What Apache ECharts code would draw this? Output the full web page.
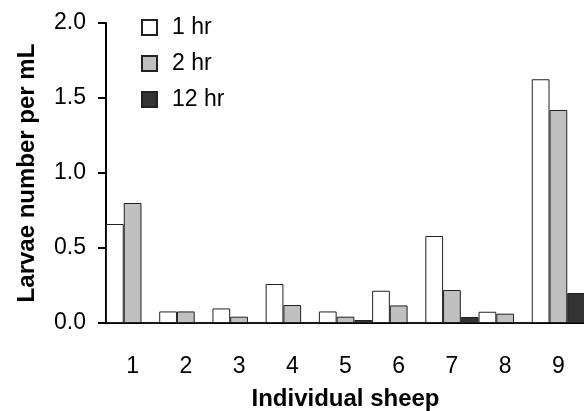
<!DOCTYPE html>
<html>
<head>
<meta charset="utf-8">
<script src="https://cdn.jsdelivr.net/npm/echarts@6/dist/echarts.min.js"></script>
<style>
  html, body { margin: 0; padding: 0; background: #fff; }
  #chart { width: 584px; height: 411px; }
</style>
</head>
<body>
<div id="chart"></div>
<script>
var sheep = ['1', '2', '3', '4', '5', '6', '7', '8', '9'];
var hr1 = [0.66, 0.077, 0.097, 0.26, 0.077, 0.215, 0.58, 0.075, 1.625];
var hr2 = [0.80, 0.077, 0.042, 0.12, 0.042, 0.117, 0.22, 0.062, 1.42];
var hr12 = [0, 0, 0, 0, 0.02, 0, 0.04, 0, 0.20];
var seriesNames = ['1 hr', '2 hr', '12 hr'];
var yTicks = [0, 0.5, 1.0, 1.5, 2.0];

var fontFam = 'Liberation Sans, Arial, sans-serif';

var myChart = echarts.init(document.getElementById('chart'));

function barSeries(name, data, fill) {
    return {
        name: name,
        type: 'bar',
        data: data,
        barGap: '0%',
        barCategoryGap: '0%',
        itemStyle: {
            color: fill,
            borderColor: '#222',
            borderWidth: 1
        }
    };
}

var option = {
    animation: false,
    grid: {
        left: 106,
        right: -1,
        top: 23,
        bottom: 88,
        outerBoundsMode: 'none'
    },
    legend: {
        orient: 'vertical',
        left: 136,
        top: 11,
        itemWidth: 15,
        itemHeight: 15,
        itemGap: 13,
        icon: 'rect',
        data: seriesNames,
        textStyle: {
            fontFamily: fontFam,
            fontSize: 23,
            color: '#000',
            padding: [0, 0, 0, 10]
        }
    },
    xAxis: {
        type: 'category',
        data: sheep,
        name: 'Individual sheep',
        nameLocation: 'middle',
        nameGap: 64,
        nameTextStyle: {
            fontFamily: fontFam,
            fontSize: 24,
            fontWeight: 'bold',
            color: '#000'
        },
        axisLine: { lineStyle: { color: '#000', width: 2 } },
        axisTick: { length: 9, lineStyle: { color: '#000', width: 2 } },
        axisLabel: {
            margin: 32,
            fontFamily: fontFam,
            fontSize: 23,
            color: '#000'
        }
    },
    yAxis: {
        type: 'value',
        min: 0,
        max: 2,
        interval: 0.5,
        name: 'Larvae number per mL',
        nameLocation: 'middle',
        nameGap: 67,
        nameTextStyle: {
            fontFamily: fontFam,
            fontSize: 24,
            fontWeight: 'bold',
            color: '#000'
        },
        splitLine: { show: false },
        axisLine: { show: true, lineStyle: { color: '#000', width: 2 } },
        axisTick: { show: true, length: 8, lineStyle: { color: '#000', width: 2 } },
        axisLabel: {
            margin: 20,
            fontFamily: fontFam,
            fontSize: 23,
            color: '#000',
            formatter: function (v) {
                return yTicks.indexOf(v) >= 0 ? v.toFixed(1) : '';
            }
        }
    },
    series: [
        barSeries(seriesNames[0], hr1, '#ffffff'),
        barSeries(seriesNames[1], hr2, '#c0c0c0'),
        barSeries(seriesNames[2], hr12, '#333333')
    ]
};

myChart.setOption(option);
</script>
</body>
</html>
